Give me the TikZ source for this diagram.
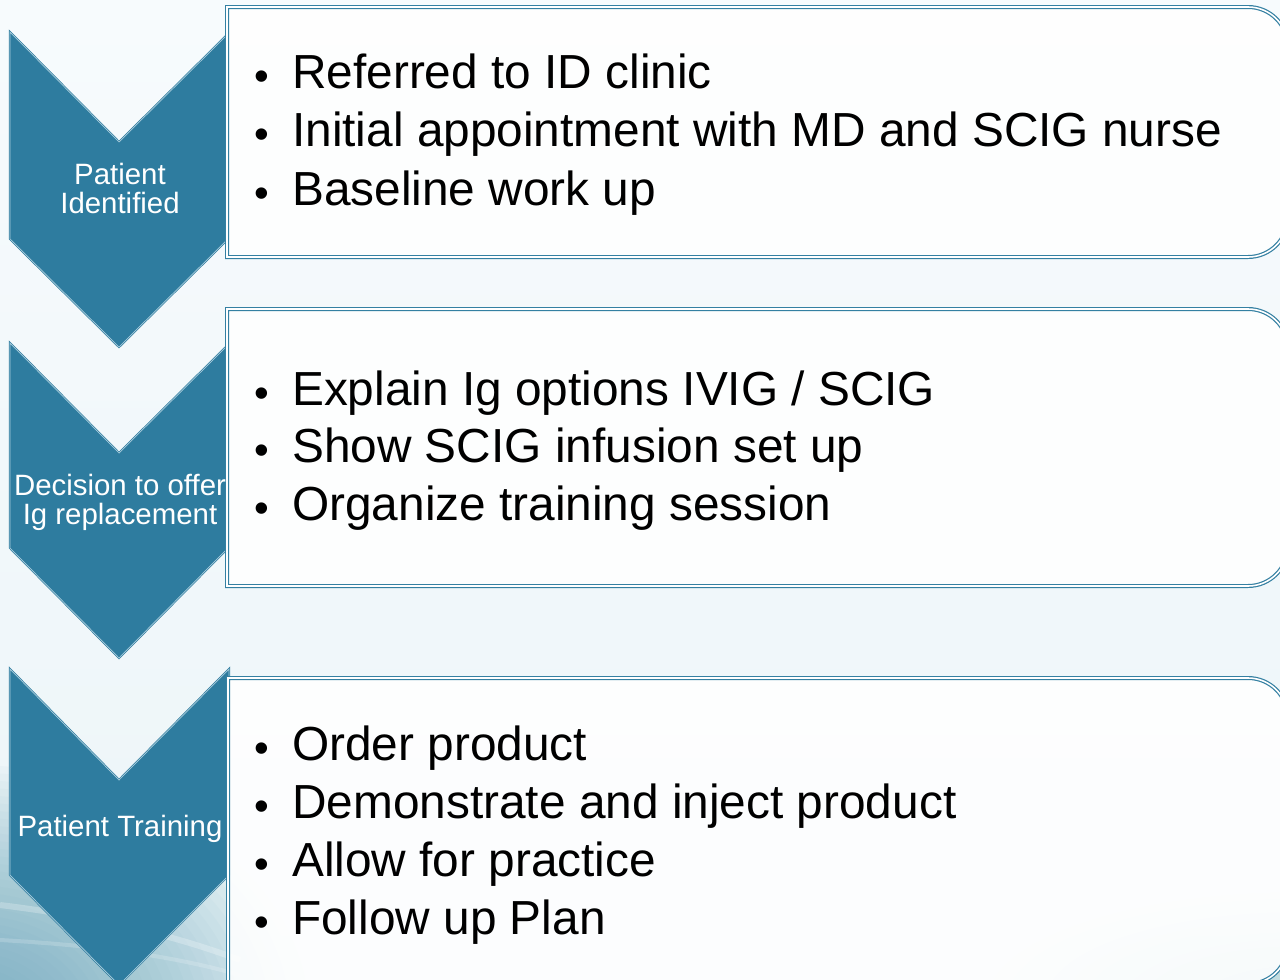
\documentclass[tikz,border=0pt]{standalone}
\usepackage{fontspec}
\setmainfont{Liberation Sans}
\begin{document}
\definecolor{chev}{RGB}{46,124,159}
\definecolor{chevedge}{RGB}{170,205,220}
\definecolor{boxline}{RGB}{52,128,162}
\definecolor{bgtop}{RGB}{247,251,253}
\definecolor{bgbot}{RGB}{236,245,248}
\definecolor{wave}{RGB}{92,160,183}
\begin{tikzpicture}[x=1pt,y=-1pt,
  chevron/.style={fill=chev, draw=chev, line width=0.7pt,
    double=chevedge, double distance=0.7pt, line join=miter},
  stepbox/.style={fill=white, fill opacity=0.88, draw=boxline,
    line width=1.2pt, double=white, double distance=1.6pt, draw opacity=1},
  steplabel/.style={text=white, font=\fontsize{29.4}{29}\selectfont,
    align=center, inner sep=0pt},
  item/.style={anchor=base west, inner sep=0pt,
    font=\fontsize{47.8}{58.5}\selectfont}]

% page and background
\useasboundingbox (0,0) rectangle (1280,980);
\fill[top color=bgtop, bottom color=bgbot] (0,0) rectangle (1280,980);

% soft teal swoosh in the lower left corner
\foreach \r in {340,330,...,20}
  \fill[wave, opacity=0.035] (-30,1020) ellipse [x radius=1.0*\r, y radius=0.75*\r];
\foreach \r in {240,225,...,30}
  \fill[wave, opacity=0.025] (1300,1000) ellipse [x radius=1.3*\r, y radius=0.45*\r];
\draw[white, opacity=0.25, line width=6pt] (0,905) .. controls (80,915) and (160,930) .. (240,960);
\draw[white, opacity=0.18, line width=4pt] (0,940) .. controls (90,945) and (170,955) .. (240,975);

% chevrons
\path[chevron] (10,32) -- (119,142) -- (228,34) -- (228,239) -- (119,347) -- (10,239) -- cycle;
\path[chevron] (10,343) -- (119,453) -- (228,345) -- (228,548) -- (119,658) -- (10,548) -- cycle;
\path[chevron] (10,669) -- (119,780) -- (229,669) -- (229,875) -- (119,985) -- (10,875) -- cycle;

% step boxes: square on the left, rounded on the right
\path[stepbox] (227,257) -- (227,7) -- (1248,7) arc[start angle=90, end angle=0, radius=40pt]
  -- (1288,217) arc[start angle=0, end angle=-90, radius=40pt] -- cycle;
\path[stepbox] (227,586) -- (227,309) -- (1248,309) arc[start angle=90, end angle=0, radius=40pt]
  -- (1288,546) arc[start angle=0, end angle=-90, radius=40pt] -- cycle;
\path[stepbox] (228,984) -- (228,678) -- (1248,678) arc[start angle=90, end angle=0, radius=40pt]
  -- (1288,944) arc[start angle=0, end angle=-90, radius=40pt] -- cycle;

% step labels
\node[steplabel] (l1) at (120,188.5) {Patient\\Identified};
\node[steplabel] (l2) at (120,502) {Decision to offer\\Ig replacement};
\node[steplabel, anchor=base] (l3) at (120,836) {Patient Training};

% bullet items
\newcommand{\bul}{\llap{\raisebox{-2pt}{\fontsize{42}{42}\selectfont •}\hspace{22.7pt}}}
\foreach \t [count=\i] in {Referred to ID clinic,
    Initial appointment with MD and SCIG nurse,
    Baseline work up}
  \node[item] (a\i) at (292,{88+58.5*(\i-1)}) {\bul\t};
\foreach \t [count=\i] in {Explain Ig options IVIG / SCIG,
    Show SCIG infusion set up,
    Organize training session}
  \node[item] (b\i) at (292,{405+57.5*(\i-1)}) {\bul\t};
\foreach \t [count=\i] in {Order product,
    Demonstrate and inject product,
    Allow for practice,
    Follow up Plan}
  \node[item] (c\i) at (292,{760+58*(\i-1)}) {\bul\t};
\end{tikzpicture}
\end{document}
